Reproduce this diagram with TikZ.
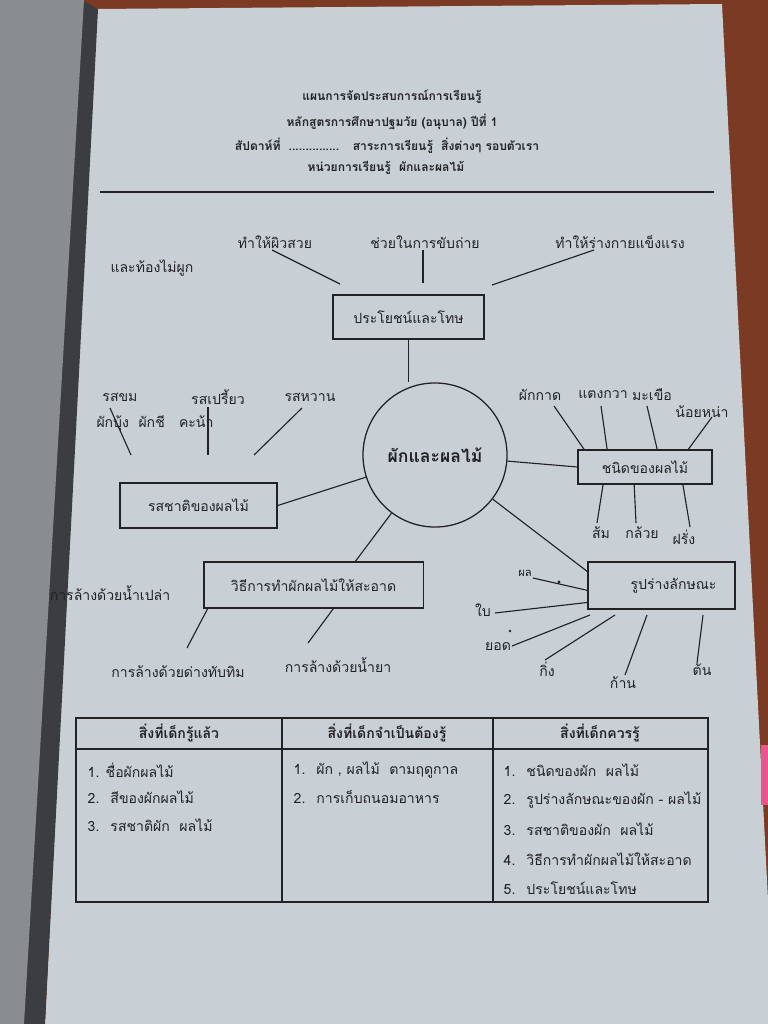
\documentclass[tikz,border=0pt]{standalone}
\usepackage{fontspec}
\newfontfamily\thaifont[Script=Thai]{Loma}
\usetikzlibrary{calc}

\definecolor{paper}{HTML}{C8D0D5}
\definecolor{cover}{HTML}{8A8D90}
\definecolor{edgedark}{HTML}{3C3D40}
\definecolor{wood}{HTML}{7A3A24}
\definecolor{ink}{HTML}{222225}
\definecolor{tab}{HTML}{E8558F}

\tikzset{
  lbl/.style={font=\thaifont\fontsize{10}{12}\selectfont, text=ink, inner sep=1pt},
  small/.style={font=\thaifont\fontsize{8}{10}\selectfont, text=ink, inner sep=1pt},
  head/.style={font=\thaifont\bfseries\fontsize{8.6}{11}\selectfont, text=ink, inner sep=1pt},
  topic/.style={lbl, draw=ink, line width=0.9pt},
  spoke/.style={draw=ink, line width=0.8pt},
  cell/.style={lbl, anchor=west}
}

\begin{document}
\begin{tikzpicture}[x=0.025cm,y=-0.025cm]
\useasboundingbox (0,0) rectangle (768,1024);

% photo background
\fill[wood] (0,0) rectangle (768,1024);
\fill[paper] (96,9) -- (722,4) -- (768,900) -- (768,1024) -- (45,1024) -- cycle;
\fill[edgedark] (82,0) -- (98,9) -- (45,1024) -- (22,1024) -- cycle;
\fill[cover] (0,0) -- (84,0) -- (24,1024) -- (0,1024) -- cycle;
\fill[tab] (761,745) rectangle (768,805);

% heading
\node[head] (h1) at (392,97) {แผนการจัดประสบการณ์การเรียนรู้};
\node[head] (h2) at (392,122) {หลักสูตรการศึกษาปฐมวัย (อนุบาล) ปีที่ 1};
\node[head] (h3) at (387,146) {สัปดาห์ที่ \ ............... \ \ สาระการเรียนรู้ \ สิ่งต่างๆ รอบตัวเรา};
\node[head] (h4) at (386,168) {หน่วยการเรียนรู้ \ ผักและผลไม้};
\draw[ink, line width=0.9pt] (100,192) -- (714,192);

% main topics
\node[draw=ink, line width=0.9pt, circle, minimum size=3.6cm,
      font=\thaifont\bfseries\fontsize{12.5}{15}\selectfont, text=ink] (hub) at (435,455) {ผักและผลไม้};
\node[topic, minimum width=3.78cm, minimum height=1.1cm] (benefit) at (408.5,317) {ประโยชน์และโทษ};
\node[topic, minimum width=3.93cm, minimum height=1.13cm] (taste) at (198.5,505.5) {รสชาติของผลไม้};
\node[topic, minimum width=3.35cm, minimum height=0.85cm] (kind) at (645,467) {ชนิดของผลไม้};
\node[topic, minimum width=3.68cm, minimum height=1.18cm] (shape) at (661.5,585.5) {\hspace{0.6cm}รูปร่างลักษณะ};
\node[topic, minimum width=5.48cm, minimum height=1.15cm] (clean) at (313.5,585) {วิธีการทำผักผลไม้ให้สะอาด};

\draw[spoke] (benefit.south) -- (benefit.south |- hub.north);
\draw[spoke] (taste.east) -- (hub);
\draw[spoke] (kind.west) -- (hub);
\draw[spoke] (hub) -- ($(shape.north west)!0.21!(shape.south west)$);
\draw[spoke] (hub) -- ($(clean.north west)!0.69!(clean.north east)$);

% benefits
\node[lbl] (b1) at (275,242) {ทำให้ผิวสวย};
\node[lbl] (b2) at (425,242) {ช่วยในการขับถ่าย};
\node[lbl] (b3) at (620,242) {ทำให้ร่างกายแข็งแรง};
\node[lbl] (b4) at (152,268) {และท้องไม่ผูก};
\coordinate (b1a) at (272,250); \coordinate (b1b) at (340,284);
\coordinate (b2a) at (423,250); \coordinate (b2b) at (423,283);
\coordinate (b3a) at (594,250); \coordinate (b3b) at (492,285);
\draw[spoke] (b1a) -- (b1b);
\draw[spoke] (b2a) -- (b2b);
\draw[spoke] (b3a) -- (b3b);

% tastes
\node[lbl] (t1) at (120,397) {รสขม};
\node[lbl] (t2) at (155,423) {ผักบุ้ง \ ผักชี \ \ คะน้า};
\node[lbl] (t3) at (218,397) {รสเปรี้ยว};
\node[lbl] (t4) at (310,397) {รสหวาน};
\coordinate (t1a) at (110,408); \coordinate (t1b) at (131,455);
\coordinate (t3a) at (208,407); \coordinate (t3b) at (208,455);
\coordinate (t4a) at (302,408); \coordinate (t4b) at (254,455);
\draw[spoke] (t1a) -- (t1b);
\draw[spoke] (t3a) -- (t3b);
\draw[spoke] (t4a) -- (t4b);

% kinds
\node[lbl] (k1) at (540,395) {ผักกาด};
\node[lbl] (k2) at (603,395) {แตงกวา};
\node[lbl] (k3) at (652,395) {มะเขือ};
\node[lbl] (k4) at (702,412) {น้อยหน่า};
\node[lbl] (k5) at (601,533) {ส้ม};
\node[lbl] (k6) at (642,533) {กล้วย};
\node[lbl] (k7) at (684,537) {ฝรั่ง};
\coordinate (k1a) at (554,406);
\coordinate (k2a) at (601,406);
\coordinate (k3a) at (647,406);
\coordinate (k4a) at (712,417);
\coordinate (k5a) at (597,523);
\coordinate (k6a) at (636,523);
\coordinate (k7a) at (690,527);
\draw[spoke] (k1a) -- ($(kind.north west)!0.05!(kind.north east)$);
\draw[spoke] (k2a) -- ($(kind.north west)!0.22!(kind.north east)$);
\draw[spoke] (k3a) -- ($(kind.north west)!0.59!(kind.north east)$);
\draw[spoke] (k4a) -- ($(kind.north west)!0.82!(kind.north east)$);
\draw[spoke] (k5a) -- ($(kind.south west)!0.19!(kind.south east)$);
\draw[spoke] (k6a) -- ($(kind.south west)!0.42!(kind.south east)$);
\draw[spoke] (k7a) -- ($(kind.south west)!0.78!(kind.south east)$);

% shape parts
\node[small] (s1) at (525,573) {ผล};
\node[lbl] (s2) at (483,610) {ใบ};
\node[lbl] (s3) at (498,647) {ยอด};
\node[lbl] (s4) at (547,669) {กิ่ง};
\node[lbl] (s5) at (623,683) {ก้าน};
\node[lbl] (s6) at (702,670) {ต้น};
\coordinate (s1a) at (533,578);
\coordinate (s2a) at (495,613);
\coordinate (s3a) at (512,646); \coordinate (s3b) at (590,615);
\coordinate (s4a) at (545,660); \coordinate (s4b) at (615,615);
\coordinate (s5a) at (625,675); \coordinate (s5b) at (647,615);
\coordinate (s6a) at (697,663); \coordinate (s6b) at (703,615);
\draw[spoke] (s1a) -- ($(shape.north west)!0.6!(shape.south west)$);
\draw[spoke] (s2a) -- ($(shape.north west)!0.85!(shape.south west)$);
\draw[spoke] (s3a) -- (s3b);
\draw[spoke] (s4a) -- (s4b);
\draw[spoke] (s5a) -- (s5b);
\draw[spoke] (s6a) -- (s6b);
\fill[ink] (559,582) circle (1.6);
\fill[ink] (510,631) circle (1.4);

% cleaning
\node[lbl] (w1) at (110,593) {การล้างด้วยน้ำเปล่า};
\node[lbl] (w2) at (178,672) {การล้างด้วยด่างทับทิม};
\node[lbl] (w3) at (338,665) {การล้างด้วยน้ำยา};
\coordinate (w2a) at (187,648);
\coordinate (w3a) at (308,643);
\draw[spoke] ($(clean.south west)!0.02!(clean.south east)$) -- (w2a);
\draw[spoke] ($(clean.south west)!0.59!(clean.south east)$) -- (w3a);

% table
\draw[ink, line width=0.9pt] (76,718) rectangle (708,902);
\draw[ink, line width=0.9pt] (76,749) -- (708,749);
\draw[ink, line width=0.9pt] (282,718) -- (282,902);
\draw[ink, line width=0.9pt] (493,718) -- (493,902);
\node[lbl, font=\thaifont\bfseries\fontsize{10}{12}\selectfont] (c1) at (179,733) {สิ่งที่เด็กรู้แล้ว};
\node[lbl, font=\thaifont\bfseries\fontsize{10}{12}\selectfont] (c2) at (387,733) {สิ่งที่เด็กจำเป็นต้องรู้};
\node[lbl, font=\thaifont\bfseries\fontsize{10}{12}\selectfont] (c3) at (600,733) {สิ่งที่เด็กควรรู้};

\node[cell] (r11) at (86,770) {1. ชื่อผักผลไม้};
\node[cell] (r12) at (86,797) {2. \ สีของผักผลไม้};
\node[cell] (r13) at (86,825) {3. \ รสชาติผัก \ ผลไม้};

\node[cell] (r21) at (292,770) {1. \ ผัก , ผลไม้ \ ตามฤดูกาล};
\node[cell] (r22) at (292,797) {2. \ การเก็บถนอมอาหาร};

\node[cell] (r31) at (502,770) {1. \ ชนิดของผัก \ ผลไม้};
\node[cell] (r32) at (502,800) {2. \ รูปร่างลักษณะของผัก - ผลไม้};
\node[cell] (r33) at (502,829) {3. \ รสชาติของผัก \ ผลไม้};
\node[cell] (r34) at (502,859) {4. \ วิธีการทำผักผลไม้ให้สะอาด};
\node[cell] (r35) at (502,888) {5. \ ประโยชน์และโทษ};

\end{tikzpicture}
\end{document}
